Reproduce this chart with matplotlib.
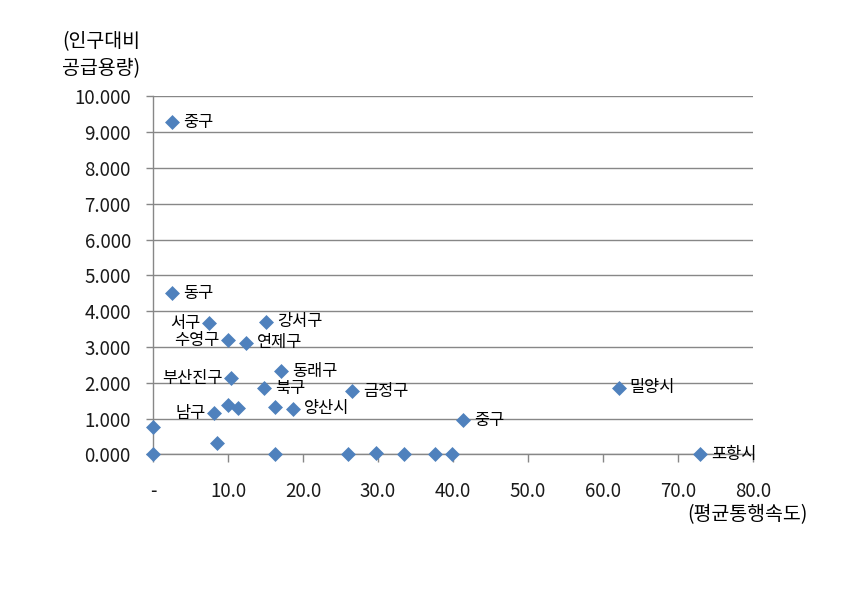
import matplotlib
matplotlib.use("Agg")
import matplotlib.pyplot as plt
from matplotlib.ticker import FuncFormatter, MultipleLocator

plt.rcParams['font.family'] = ['Noto Sans CJK KR', 'DejaVu Sans']

# data: (average travel speed, supply capacity per population)
speed = [2.5, 2.5, 7.5, 15.1, 10.0, 12.4, 10.45, 17.1, 14.8, 26.6, 62.1, 8.1,
         10.0, 11.4, 16.3, 18.7, 41.3, 0.0, 8.6,
         0.0, 16.3, 26.0, 29.8, 33.5, 37.6, 39.9, 72.9]
capacity = [9.28, 4.50, 3.66, 3.70, 3.19, 3.12, 2.13, 2.33, 1.85, 1.77, 1.87, 1.15,
            1.38, 1.29, 1.33, 1.27, 0.96, 0.78, 0.31,
            0.0, 0.0, 0.0, 0.05, 0.0, 0.0, 0.0, 0.0]
labels = ["중구", "동구", "서구", "강서구", "수영구", "연제구", "부산진구", "동래구", "북구",
          "금정구", "밀양시", "남구",
          "", "", "", "양산시", "중구", "", "",
          "", "", "", "", "", "", "", "포항시"]
label_side = ["r", "r", "l", "r", "l", "r", "l", "r", "r",
              "r", "r", "l",
              "r", "r", "r", "r", "r", "r", "r",
              "r", "r", "r", "r", "r", "r", "r", "r"]

y_title = "(인구대비\n공급용량)"
x_title = "(평균통행속도)"

fig = plt.figure(figsize=(8.62, 5.91), dpi=100)
ax = fig.add_axes([0.1775, 0.231, 0.696, 0.606])

ax.scatter(speed, capacity, marker='D', s=58, color='#4F81BD', zorder=3,
           clip_on=False, linewidths=0)

for xv, yv, lab, side in zip(speed, capacity, labels, label_side):
    if not lab:
        continue
    if side == "r":
        ax.annotate(lab, (xv, yv), xytext=(8, 0), textcoords='offset points',
                    ha='left', va='center', fontsize=11.8, color='black')
    else:
        ax.annotate(lab, (xv, yv), xytext=(-6, 0), textcoords='offset points',
                    ha='right', va='center', fontsize=11.8, color='black')

ax.set_xlim(0, 80)
ax.set_ylim(0, 10)
ax.xaxis.set_major_locator(MultipleLocator(10))
ax.yaxis.set_major_locator(MultipleLocator(1))
ax.xaxis.set_major_formatter(FuncFormatter(lambda v, p: "-" if abs(v) < 1e-9 else f"{v:.1f}"))
ax.yaxis.set_major_formatter(FuncFormatter(lambda v, p: f"{v:.3f}"))

ax.grid(axis='y', color='#878787', linewidth=1.0, zorder=0)
ax.set_axisbelow(True)
for s in ['top', 'right']:
    ax.spines[s].set_visible(False)
for s in ['left', 'bottom']:
    ax.spines[s].set_color('#878787')
    ax.spines[s].set_linewidth(1.0)

ax.tick_params(axis='y', direction='out', length=5, width=1, color='#878787',
               pad=11, labelsize=13.5, labelcolor='#1a1a1a')
ax.tick_params(axis='x', direction='out', length=6, width=1, color='#878787',
               pad=13, labelsize=13.5, labelcolor='#1a1a1a')

fig.text(101 / 862, 1 - 55 / 591, y_title, ha='center', va='center',
         fontsize=14, linespacing=1.4)
fig.text(808 / 862, 1 - 515 / 591, x_title, ha='right', va='center', fontsize=14)

fig.savefig("out.png", dpi=100, facecolor='white')
